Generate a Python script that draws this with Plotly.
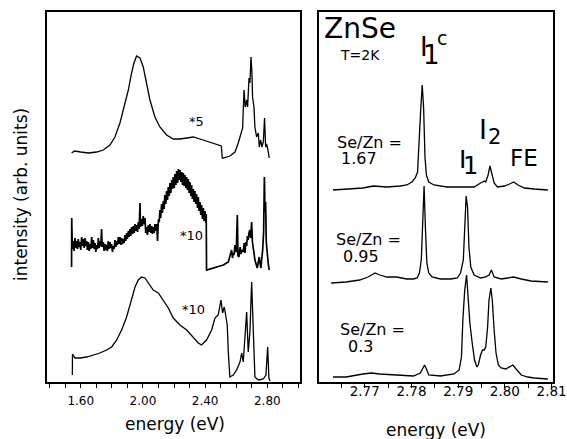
import plotly.graph_objects as go

W, H = 567, 439

# ---------------- left panel data (energy in eV, intensity arb. units, offset spectra) -------------
left_top_E = [1.541, 1.560, 1.600, 1.650, 1.702, 1.745, 1.788, 1.820, 1.852, 1.884, 1.906, 1.927, 1.942,
              1.959, 1.981, 2.002, 2.024, 2.045, 2.077, 2.109, 2.152, 2.195, 2.238, 2.281, 2.324, 2.367,
              2.409, 2.452, 2.495, 2.504, 2.510, 2.517, 2.559, 2.592, 2.613, 2.635, 2.641, 2.650, 2.658,
              2.667, 2.673, 2.682, 2.688, 2.695, 2.701, 2.705, 2.714, 2.720, 2.731, 2.742, 2.748, 2.757,
              2.765, 2.774, 2.782, 2.789, 2.795, 2.804, 2.812]
left_top_I = [229, 231, 230, 229, 230, 232, 237, 245, 259, 277, 292, 309, 319,
              326, 324, 315, 299, 282, 265, 255, 247, 243, 243, 244, 245, 243,
              241, 239, 237, 236, 224, 224, 226, 230, 239, 252, 254, 292, 275,
              282, 275, 304, 299, 325, 309, 285, 275, 255, 245, 249, 235, 242,
              235, 240, 264, 235, 238, 232, 224]

left_mid_E = [1.541, 1.542, 1.546, 1.552, 1.557, 1.563, 1.568, 1.573, 1.579, 1.584, 1.590, 1.595, 1.600,
              1.606, 1.611, 1.616, 1.622, 1.627, 1.633, 1.638, 1.643, 1.649, 1.654, 1.659, 1.665, 1.670,
              1.676, 1.681, 1.686, 1.692, 1.697, 1.702, 1.708, 1.713, 1.719, 1.724, 1.729, 1.734, 1.738,
              1.745, 1.750, 1.755, 1.761, 1.766, 1.772, 1.777, 1.782, 1.788, 1.793, 1.798, 1.804, 1.809,
              1.815, 1.820, 1.826, 1.831, 1.836, 1.842, 1.847, 1.852, 1.858, 1.863, 1.868, 1.873, 1.879,
              1.884, 1.890, 1.895, 1.900, 1.906, 1.911, 1.916, 1.922, 1.927, 1.933, 1.938, 1.944, 1.949,
              1.954, 1.959, 1.965, 1.970, 1.976, 1.981, 1.984, 1.991, 1.996, 2.002, 2.007, 2.013, 2.018,
              2.024, 2.029, 2.035, 2.040, 2.045, 2.051, 2.056, 2.061, 2.066, 2.072, 2.077, 2.083, 2.088,
              2.092, 2.094, 2.098, 2.101, 2.105, 2.109, 2.114, 2.120, 2.125, 2.131, 2.136, 2.141, 2.147,
              2.152, 2.158, 2.163, 2.169, 2.174, 2.179, 2.185, 2.190, 2.195, 2.201, 2.206, 2.212, 2.217,
              2.223, 2.228, 2.234, 2.238, 2.244, 2.249, 2.254, 2.260, 2.265, 2.270, 2.276, 2.281, 2.286,
              2.292, 2.297, 2.302, 2.308, 2.313, 2.318, 2.324, 2.329, 2.334, 2.340, 2.345, 2.351, 2.356,
              2.361, 2.367, 2.372, 2.377, 2.383, 2.388, 2.393, 2.399, 2.404, 2.407, 2.409, 2.431, 2.474,
              2.517, 2.549, 2.560, 2.570, 2.576, 2.581, 2.586, 2.592, 2.600, 2.607, 2.611, 2.617, 2.625,
              2.630, 2.635, 2.645, 2.651, 2.656, 2.662, 2.667, 2.672, 2.677, 2.683, 2.688, 2.693, 2.699,
              2.704, 2.710, 2.715, 2.720, 2.728, 2.735, 2.742, 2.748, 2.754, 2.759, 2.765, 2.770, 2.776,
              2.781, 2.785, 2.789, 2.793, 2.800, 2.806, 2.812]
left_mid_I = [115, 164, 133, 141, 131, 144, 134, 141, 133, 143, 135, 140, 132,
              145, 136, 143, 134, 144, 136, 141, 132, 140, 131, 138, 133, 145,
              134, 142, 133, 139, 130, 137, 133, 144, 134, 141, 136, 153, 135,
              140, 131, 138, 132, 137, 131, 141, 133, 140, 134, 138, 130, 136,
              133, 142, 135, 141, 137, 145, 138, 145, 137, 144, 138, 143, 139,
              147, 141, 149, 143, 151, 145, 153, 146, 155, 148, 156, 149, 158,
              151, 157, 150, 160, 153, 179, 155, 163, 156, 166, 158, 164, 149,
              155, 147, 157, 150, 158, 149, 156, 148, 155, 149, 158, 151, 158,
              150, 141, 158, 163, 160, 172, 164, 178, 169, 181, 173, 187, 178,
              191, 182, 195, 186, 199, 189, 202, 193, 205, 194, 208, 197, 211,
              199, 213, 202, 212, 200, 210, 197, 209, 196, 207, 194, 205, 192,
              203, 189, 200, 186, 197, 183, 193, 180, 191, 178, 188, 174, 185,
              171, 180, 167, 177, 163, 174, 161, 171, 159, 168, 112, 113, 115,
              117, 120, 126, 132, 124, 129, 127, 137, 130, 167, 126, 125, 135,
              128, 132, 130, 139, 129, 140, 136, 146, 142, 150, 152, 144, 160,
              140, 135, 128, 122, 118, 114, 120, 125, 118, 114, 125, 132, 150,
              205, 170, 180, 140, 122, 118, 112]

left_bot_E = [1.546, 1.547, 1.563, 1.595, 1.638, 1.681, 1.723, 1.766, 1.799, 1.831, 1.863, 1.895, 1.927,
              1.949, 1.970, 1.991, 2.013, 2.034, 2.066, 2.099, 2.131, 2.163, 2.195, 2.238, 2.281, 2.324,
              2.356, 2.377, 2.409, 2.442, 2.463, 2.484, 2.502, 2.512, 2.523, 2.534, 2.542, 2.549, 2.559,
              2.581, 2.602, 2.624, 2.635, 2.645, 2.658, 2.667, 2.677, 2.688, 2.699, 2.710, 2.720, 2.742,
              2.774, 2.791, 2.802, 2.810, 2.817]
left_bot_I = [7, 28, 24, 24, 25, 27, 29, 32, 35, 42, 52, 65, 84,
              95, 102, 105, 104, 99, 92, 89, 82, 74, 64, 57, 52, 45,
              39, 37, 42, 52, 64, 67, 82, 69, 75, 65, 57, 30, 5,
              7, 12, 20, 29, 20, 50, 70, 30, 50, 100, 37, 5, 2,
              3, 7, 35, 4, 1]

# ---------------- right panel data ----------------
right_top_E = [2.7632, 2.7660, 2.7696, 2.7718, 2.7747, 2.7776, 2.7790, 2.7801, 2.7808, 2.7813, 2.7817,
               2.7820, 2.7823, 2.7826, 2.7829, 2.7832, 2.7837, 2.7848, 2.7876, 2.7905, 2.7934, 2.7948,
               2.7956, 2.7959, 2.7964, 2.7968, 2.7973, 2.7977, 2.7984, 2.7999, 2.8010, 2.8019, 2.8028,
               2.8042, 2.8063, 2.8092]
right_top_I = [192, 193, 194, 196, 195, 196, 197, 200, 204, 210, 240,
               274, 297, 274, 224, 207, 200, 197, 195, 195, 195, 199,
               201, 200, 207, 216, 207, 199, 195, 196, 198, 200, 197,
               194, 193, 192]

right_mid_E = [2.7628, 2.7660, 2.7689, 2.7707, 2.7722, 2.7732, 2.7747, 2.7768, 2.7790, 2.7804, 2.7812,
               2.7817, 2.7821, 2.7824, 2.7826, 2.7827, 2.7830, 2.7833, 2.7837, 2.7844, 2.7862, 2.7884,
               2.7898, 2.7905, 2.7911, 2.7914, 2.7917, 2.7920, 2.7923, 2.7927, 2.7934, 2.7948, 2.7959,
               2.7966, 2.7971, 2.7977, 2.7992, 2.8006, 2.8019, 2.8035, 2.8056, 2.8092]
right_mid_I = [99, 100, 102, 105, 109, 107, 105, 105, 103, 103, 104,
               109, 122, 162, 189, 196, 152, 119, 109, 105, 103, 103,
               104, 109, 122, 152, 186, 175, 135, 115, 107, 104, 105,
               107, 112, 105, 103, 104, 105, 103, 101, 100]

right_bot_E = [2.7632, 2.7660, 2.7696, 2.7714, 2.7732, 2.7768, 2.7804, 2.7819, 2.7824, 2.7828, 2.7832,
               2.7837, 2.7862, 2.7891, 2.7902, 2.7907, 2.7910, 2.7914, 2.7918, 2.7921, 2.7925, 2.7930,
               2.7935, 2.7940, 2.7943, 2.7948, 2.7952, 2.7956, 2.7959, 2.7963, 2.7966, 2.7970, 2.7973,
               2.7977, 2.7981, 2.7986, 2.7992, 2.8002, 2.8010, 2.8017, 2.8024, 2.8035, 2.8049, 2.8063,
               2.8092]
right_bot_I = [5, 5, 8, 9, 8, 7, 6, 9, 14, 17, 13,
               7, 6, 8, 12, 25, 62, 92, 107, 82, 59, 39,
               22, 15, 17, 27, 32, 32, 35, 55, 82, 94, 82,
               52, 29, 17, 14, 13, 15, 17, 13, 7, 5, 4,
               3]

left_ticks = [1.60, 2.00, 2.40, 2.80]
left_ticktext = ["1.60", "2.00", "2.40", "2.80"]
right_ticks = [2.77, 2.78, 2.79, 2.80, 2.81]
right_ticktext = ["2.77", "2.78", "2.79", "2.80", "2.81"]

FONT = "DejaVu Sans"

fig = go.Figure()
for xs, ys, ax, ay, lw in [(left_top_E, left_top_I, "x", "y", 1.3), (left_mid_E, left_mid_I, "x", "y", 1.7),
                           (left_bot_E, left_bot_I, "x", "y", 1.3), (right_top_E, right_top_I, "x2", "y2", 1.3),
                           (right_mid_E, right_mid_I, "x2", "y2", 1.3), (right_bot_E, right_bot_I, "x2", "y2", 1.3)]:
    fig.add_trace(go.Scatter(x=xs, y=ys, mode="lines", line=dict(color="black", width=lw),
                             xaxis=ax, yaxis=ay, showlegend=False, hoverinfo="skip"))

ydom = [1 - 382 / H, 1 - 12 / H]
common_x = dict(ticks="outside", ticklen=4, tickwidth=1.2, tickcolor="black", showline=True,
                linecolor="black", linewidth=1.6, mirror=True, showgrid=False, zeroline=False,
                tickmode="array")
common_y = dict(range=[0, 370], domain=ydom, showticklabels=False, ticks="", showline=True,
                linecolor="black", linewidth=1.6, mirror=True, showgrid=False, zeroline=False)

fig.update_layout(
    width=W, height=H, autosize=False, margin=dict(l=0, r=0, t=0, b=0, autoexpand=False),
    paper_bgcolor="white", plot_bgcolor="white", showlegend=False,
    xaxis=dict(domain=[47 / W, 300 / W], range=[1.383, 3.01], tickvals=left_ticks, ticktext=left_ticktext,
               tickfont=dict(family=FONT, size=12, color="black"), anchor="y", ticklabelstandoff=3,
               minor=dict(tick0=1.4, dtick=0.1, ticks="outside", ticklen=4, tickcolor="black", showgrid=False),
               **common_x),
    yaxis=dict(anchor="x", **common_y),
    xaxis2=dict(domain=[319 / W, 553 / W], range=[2.7602, 2.8103], tickvals=right_ticks, ticktext=right_ticktext,
                tickfont=dict(family=FONT, size=13.5, color="black"), anchor="y2", ticklabelstandoff=-8,
                minor=dict(tick0=2.76, dtick=0.005, ticks="outside", ticklen=4, tickcolor="black", showgrid=False),
                **common_x),
    yaxis2=dict(anchor="x2", **common_y),
)


def ann(text, px, py, size, angle=0):
    fig.add_annotation(text=text, x=px / W, y=1 - py / H, xref="paper", yref="paper",
                       xanchor="center", yanchor="middle", showarrow=False, textangle=angle,
                       font=dict(family=FONT, size=size, color="black"))


ann("intensity (arb. units)", 21, 195, 17, -90)
ann("energy (eV)", 175, 424, 17)
ann("energy (eV)", 436, 430, 17)
ann("*5", 196, 122, 13)
ann("*10", 191, 235, 13)
ann("*10", 193, 309, 13)
ann("ZnSe", 360, 28, 28)
ann("T=2K", 360, 55, 14)
ann("I", 424, 47, 26)
ann("1", 431, 55, 26)
ann("c", 442, 38, 19)
ann("I", 483, 130, 27)
ann("2", 494, 137, 21)
ann("I", 462, 159, 25)
ann("1", 470, 166, 24)
ann("FE", 524, 158, 23)
ann("Se/Zn =", 369, 142, 16)
ann("1.67", 359, 158, 16)
ann("Se/Zn =", 368, 239, 16)
ann("0.95", 361, 256, 16)
ann("Se/Zn =", 372, 329, 16)
ann("0.3", 360, 346, 16)

fig.write_html("out.html", config={"displayModeBar": False, "responsive": False},
               post_script="document.body.style.margin='0px';document.body.style.overflow='hidden';")
